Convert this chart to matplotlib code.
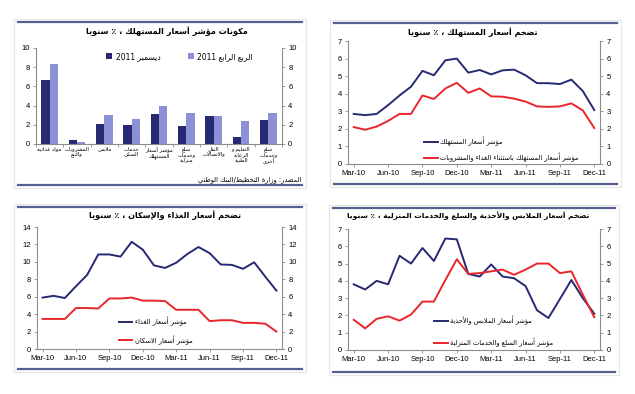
import re
import numpy as np
import matplotlib
matplotlib.use("Agg")
import matplotlib.pyplot as plt
from matplotlib.patches import Rectangle

plt.rcParams['font.family'] = ['Liberation Sans', 'DejaVu Sans']

# ---- Arabic shaping (matplotlib has no RTL / joining support) ----
ARABIC = {
    '\u0621': (0xFE80, 0), '\u0622': (0xFE81, 1), '\u0623': (0xFE83, 1),
    '\u0624': (0xFE85, 1), '\u0625': (0xFE87, 1), '\u0626': (0xFE89, 2),
    '\u0627': (0xFE8D, 1), '\u0628': (0xFE8F, 2), '\u0629': (0xFE93, 1),
    '\u062A': (0xFE95, 2), '\u062B': (0xFE99, 2), '\u062C': (0xFE9D, 2),
    '\u062D': (0xFEA1, 2), '\u062E': (0xFEA5, 2), '\u062F': (0xFEA9, 1),
    '\u0630': (0xFEAB, 1), '\u0631': (0xFEAD, 1), '\u0632': (0xFEAF, 1),
    '\u0633': (0xFEB1, 2), '\u0634': (0xFEB5, 2), '\u0635': (0xFEB9, 2),
    '\u0636': (0xFEBD, 2), '\u0637': (0xFEC1, 2), '\u0638': (0xFEC5, 2),
    '\u0639': (0xFEC9, 2), '\u063A': (0xFECD, 2), '\u0641': (0xFED1, 2),
    '\u0642': (0xFED5, 2), '\u0643': (0xFED9, 2), '\u0644': (0xFEDD, 2),
    '\u0645': (0xFEE1, 2), '\u0646': (0xFEE5, 2), '\u0647': (0xFEE9, 2),
    '\u0648': (0xFEED, 1), '\u0649': (0xFEEF, 1), '\u064A': (0xFEF1, 2),
}
LAM_ALEF = {'\u0622': 0xFEF5, '\u0623': 0xFEF7, '\u0625': 0xFEF9, '\u0627': 0xFEFB}


def ar(text):
    lines = []
    for line in text.split('\n'):
        out = []
        i, n = 0, len(line)
        while i < n:
            ch = line[i]
            if ch not in ARABIC:
                out.append(ch)
                i += 1
                continue
            prev = line[i - 1] if i > 0 else ''
            jp = prev in ARABIC and ARABIC[prev][1] == 2
            if ch == '\u0644' and i + 1 < n and line[i + 1] in LAM_ALEF:
                out.append(chr(LAM_ALEF[line[i + 1]] + jp))
                i += 2
                continue
            base, kind = ARABIC[ch]
            nxt = line[i + 1] if i + 1 < n else ''
            jn = kind == 2 and nxt in ARABIC and ARABIC[nxt][1] > 0
            if kind == 0:
                form = 0
            elif jp and jn:
                form = 3
            elif jn:
                form = 2
            elif jp:
                form = 1
            else:
                form = 0
            out.append(chr(base + form))
            i += 1
        vis = ''.join(out)[::-1]
        lines.append(re.sub(r'[0-9A-Za-z.]+', lambda m: m.group(0)[::-1], vis))
    return '\n'.join(lines)


# ---- data ----
categories = ['مواد غذائية', 'المشروبات\nوالتبغ', 'ملابس', 'خدمات\nالسكن',
              'مؤشر أسعار\nالمستهلك', 'سلع\nوخدمات\nمنزلية', 'النقل\nوالاتصالات',
              'التعليم و\nالرعاية\nالطبية', 'سلع\nوخدمات\nأخرى']
dec_2011 = [6.7, 0.42, 2.1, 2.0, 3.1, 1.9, 2.9, 0.72, 2.55]
q4_2011 = [8.35, 0.22, 3.05, 2.6, 4.0, 3.25, 2.95, 2.35, 3.2]

tick_labels = ['Mar-10', 'Jun-10', 'Sep-10', 'Dec-10', 'Mar-11', 'Jun-11', 'Sep-11', 'Dec-11']

cpi = [2.85, 2.78, 2.85, 3.35, 3.9, 4.4, 5.3, 5.05, 5.9, 6.0, 5.2, 5.35,
       5.1, 5.33, 5.37, 5.05, 4.6, 4.6, 4.55, 4.8, 4.15, 3.07]
cpi_ex_food = [2.1, 1.95, 2.13, 2.45, 2.85, 2.85, 3.9, 3.7, 4.3, 4.62, 4.05, 4.3,
               3.85, 3.83, 3.72, 3.55, 3.28, 3.25, 3.28, 3.45, 3.05, 2.05]

food = [5.9, 6.1, 5.85, 7.2, 8.5, 10.85, 10.85, 10.6, 12.3, 11.4, 9.6, 9.3,
        9.9, 10.9, 11.7, 11.0, 9.7, 9.65, 9.2, 9.95, 8.3, 6.7]
housing = [3.45, 3.45, 3.45, 4.7, 4.7, 4.65, 5.8, 5.8, 5.9, 5.55, 5.55, 5.5,
           4.5, 4.5, 4.5, 3.2, 3.3, 3.3, 3.0, 3.0, 2.9, 2.0]

clothing = [3.8, 3.5, 4.0, 3.8, 5.45, 5.0, 5.9, 5.15, 6.45, 6.4, 4.4, 4.25,
            4.95, 4.25, 4.15, 3.7, 2.3, 1.85, 2.95, 4.05, 3.0, 2.1]
household = [1.75, 1.25, 1.8, 1.95, 1.7, 2.05, 2.8, 2.8, 4.05, 5.25, 4.4, 4.45,
             4.55, 4.65, 4.35, 4.65, 5.0, 5.0, 4.45, 4.55, 3.2, 1.9]

NAVY = '#252a72'
LAV = '#8c90d4'
RED = '#e8262b'
SPINE = '#8c8c8c'
FRAME = '#55608f'

W, H = 635, 394
fig = plt.figure(figsize=(W / 100, H / 100), dpi=100)
fig.patch.set_facecolor('white')

bg = fig.add_axes([0, 0, 1, 1])
bg.set_xlim(0, W)
bg.set_ylim(H, 0)
bg.axis('off')
for x0, x1, top, bot in [(18, 302, 22, 185), (334, 617, 23, 184),
                         (18, 302, 207, 369), (333, 615, 208, 372)]:
    bg.add_patch(Rectangle((x0 - 4, top - 3), x1 - x0 + 8, bot - top + 6,
                           fill=False, ec='#e6e6e6', lw=0.8))
    bg.plot([x0, x1], [top, top], color=FRAME, lw=1.6)
    bg.plot([x0, x1], [bot, bot], color=FRAME, lw=1.6)


def ax_at(l, t, r, b):
    a = fig.add_axes([l / W, 1 - b / H, (r - l) / W, (b - t) / H])
    a.set_facecolor('none')
    for s in ['left', 'right', 'bottom']:
        a.spines[s].set_color(SPINE)
        a.spines[s].set_linewidth(0.8)
    a.spines['top'].set_visible(False)
    a.tick_params(axis='y', right=True, labelright=True, labelsize=5.5,
                  length=2.5, width=0.6, color=SPINE, pad=2)
    a.tick_params(axis='x', labelsize=5.5, length=2.5, width=0.6, color=SPINE, pad=2)
    return a


TITLE = dict(fontweight='bold', family='DejaVu Sans', ha='center', va='center')
LEG = dict(frameon=False, prop={'family': 'DejaVu Sans', 'size': 4.8})

# ---- top-left: bars ----
ax1 = ax_at(36, 48, 282, 144)
x = np.arange(len(categories))
bw = 0.3
ax1.bar(x - bw / 2, dec_2011, bw, color=NAVY, label=ar('ديسمبر 2011'))
ax1.bar(x + bw / 2, q4_2011, bw, color=LAV, label=ar('الربع الرابع 2011'))
ax1.set_xlim(-0.5, len(categories) - 0.5)
ax1.set_ylim(0, 10)
ax1.set_yticks(range(0, 11, 2))
ax1.set_xticks(x)
ax1.set_xticklabels([ar(c) for c in categories], family='DejaVu Sans', fontsize=3.9,
                    linespacing=1.0, va='top')
ax1.tick_params(axis='x', length=0)
ax1.set_xticks(np.arange(-0.5, len(categories), 1), minor=True)
ax1.tick_params(axis='x', which='minor', length=2.5, width=0.6, color=SPINE)
ax1.legend(loc='upper left', bbox_to_anchor=(0.27, 1.0), ncol=2, handlelength=0.8,
           handleheight=0.8, handletextpad=0.5, columnspacing=3.5, borderpad=0,
           frameon=False, prop={'family': 'DejaVu Sans', 'size': 5.5})
fig.text(167 / W, 1 - 31 / H, ar('مكونات مؤشر أسعار المستهلك ، ٪ سنويا'),
         fontsize=5.9, **TITLE)
fig.text(301 / W, 1 - 180 / H, ar('المصدر: وزارة التخطيط/البنك الوطني'),
         fontsize=4.8, family='DejaVu Sans', ha='right', va='center')


def line_panel(box, s1, s2, l1, l2, ymax, ystep, leg_anchor, spacing, title, tpos, tsize):
    a = ax_at(*box)
    idx = np.arange(len(s1))
    a.plot(idx, s1, color=NAVY, lw=1.4, label=ar(l1))
    a.plot(idx, s2, color=RED, lw=1.4, label=ar(l2))
    a.set_xlim(-0.5, len(s1) - 0.5)
    a.set_ylim(0, ymax)
    a.set_yticks(np.arange(0, ymax + 0.1, ystep))
    a.set_xticks(idx[::3])
    a.set_xticklabels(tick_labels)
    a.legend(loc='upper left', bbox_to_anchor=leg_anchor, handlelength=2.0,
             handletextpad=0.4, borderpad=0, labelspacing=spacing, **LEG)
    fig.text(tpos[0] / W, 1 - tpos[1] / H, ar(title), fontsize=tsize, **TITLE)
    return a


line_panel((348, 41, 600, 164), cpi, cpi_ex_food,
           'مؤشر أسعار المستهلك', 'مؤشر أسعار المستهلك باستثناء الغذاء والمشروبات',
           7, 1, (0.29, 0.25), 1.0, 'تضخم أسعار المستهلك ، ٪ سنويا', (473, 32), 5.9)

line_panel((37, 227, 282, 349), food, housing,
           'مؤشر أسعار الغذاء', 'مؤشر أسعار الاسكان',
           14, 2, (0.32, 0.29), 1.3, 'تضخم أسعار الغذاء والإسكان ، ٪ سنويا', (165, 215), 5.9)

line_panel((348, 229, 600, 350), clothing, household,
           'مؤشر أسعار الملابس والأحذية', 'مؤشر أسعار السلع والخدمات المنزلية',
           7, 1, (0.33, 0.31), 1.9,
           'تضخم أسعار الملابس والأحذية والسلع والخدمات المنزلية ، ٪ سنويا', (468, 216), 5.4)

fig.savefig('out.png', dpi=100, facecolor='white')
